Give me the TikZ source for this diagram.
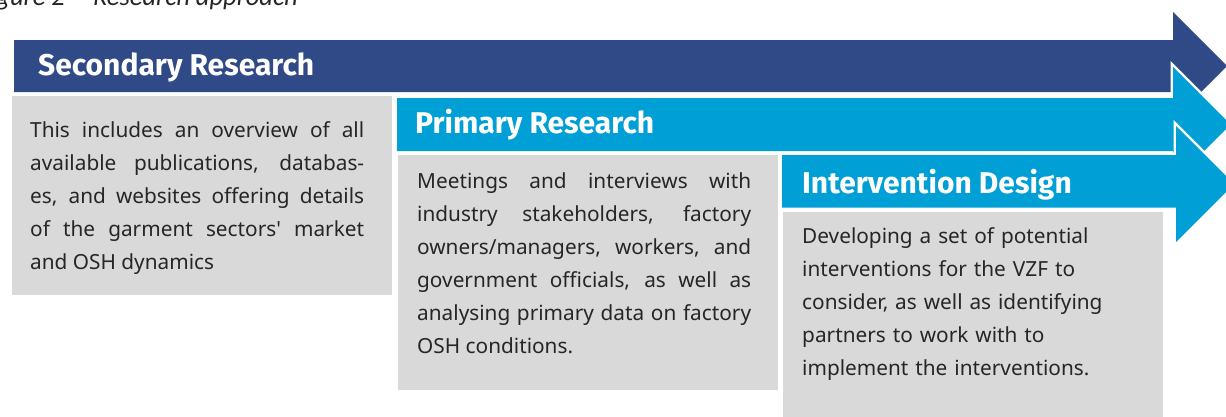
\documentclass[tikz,border=0pt]{standalone}
\usepackage{fontspec}
\setmainfont{Noto Sans}
\newfontfamily\headfont{Fira Sans}
\newfontfamily\capfont{Carlito}

\definecolor{navy}{HTML}{2F4A86}
\definecolor{sky}{HTML}{009FD6}
\definecolor{panel}{HTML}{D9D9D9}
\definecolor{ink}{HTML}{262626}

\tikzset{
  stage/.style={fill=#1},
  overlay stage/.style={fill=#1, preaction={draw=white, line width=5pt, line join=miter}},
  panelbox/.style={fill=panel},
  heading/.style={anchor=base west, inner sep=0pt, text=white,
    font=\headfont\bfseries\fontsize{30}{30}\selectfont},
  bodytext/.style={anchor=base west, inner sep=0pt, text=ink, text width=334pt,
    font=\fontsize{20.8}{33}\selectfont},
  caption/.style={anchor=base east, inner sep=0pt, text=ink,
    font=\capfont\itshape\fontsize{26.5}{26.5}\selectfont},
}

\begin{document}
\begin{tikzpicture}[x=1pt, y=-1pt]
  \useasboundingbox (0,0) rectangle (1226,416);
  \clip (0,0) rectangle (1226,416);

  % figure caption (runs off the top edge)
  \node[caption] (cap) at (298,5) {Figure 2 -- Research approach};

  % grey description panels
  \path[panelbox] (12,96) rectangle (392,295);
  \path[panelbox] (398,155) rectangle (778,390);
  \path[panelbox] (783,212) rectangle (1163,430);

  % stage arrows, each later one outlined in white over the previous
  \path[stage=navy] (14,40) -- (1173,40) -- (1173,12) -- (1227,66)
    -- (1173,120) -- (1173,92) -- (14,92) -- cycle;
  \path[overlay stage=sky] (397,98) -- (1173,98) -- (1173,67) -- (1230.5,124.5)
    -- (1173,182) -- (1173,151) -- (397,151) -- cycle;
  \path[overlay stage=sky] (782,155) -- (1176,155) -- (1176,126) -- (1234,184)
    -- (1176,242) -- (1176,207.5) -- (782,207.5) -- cycle;

  % stage titles
  \node[heading] (h1) at (38,75) {Secondary Research};
  \node[heading] (h2) at (415,133) {Primary Research};
  \node[heading] (h3) at (802,193) {Intervention Design};

  % stage descriptions
  \node[bodytext, align=justify] (t1) at (30,137) {\tolerance=10000
    This includes an overview of all\linebreak
    available publications, databas-\linebreak
    es, and websites offering details\linebreak
    of the garment sectors\textquotesingle{} market\linebreak
    and OSH dynamics};
  \node[bodytext, align=justify] (t2) at (417,188) {\tolerance=10000
    Meetings and interviews with\linebreak
    industry stakeholders, factory\linebreak
    owners/managers, workers, and\linebreak
    government officials, as well as\linebreak
    analysing primary data on factory\linebreak
    OSH conditions.};
  \node[bodytext, align=left] (t3) at (802,243) {Developing a set of potential\\
    interventions for the VZF to\\
    consider, as well as identifying\\
    partners to work with to\\
    implement the interventions.};
\end{tikzpicture}
\end{document}
